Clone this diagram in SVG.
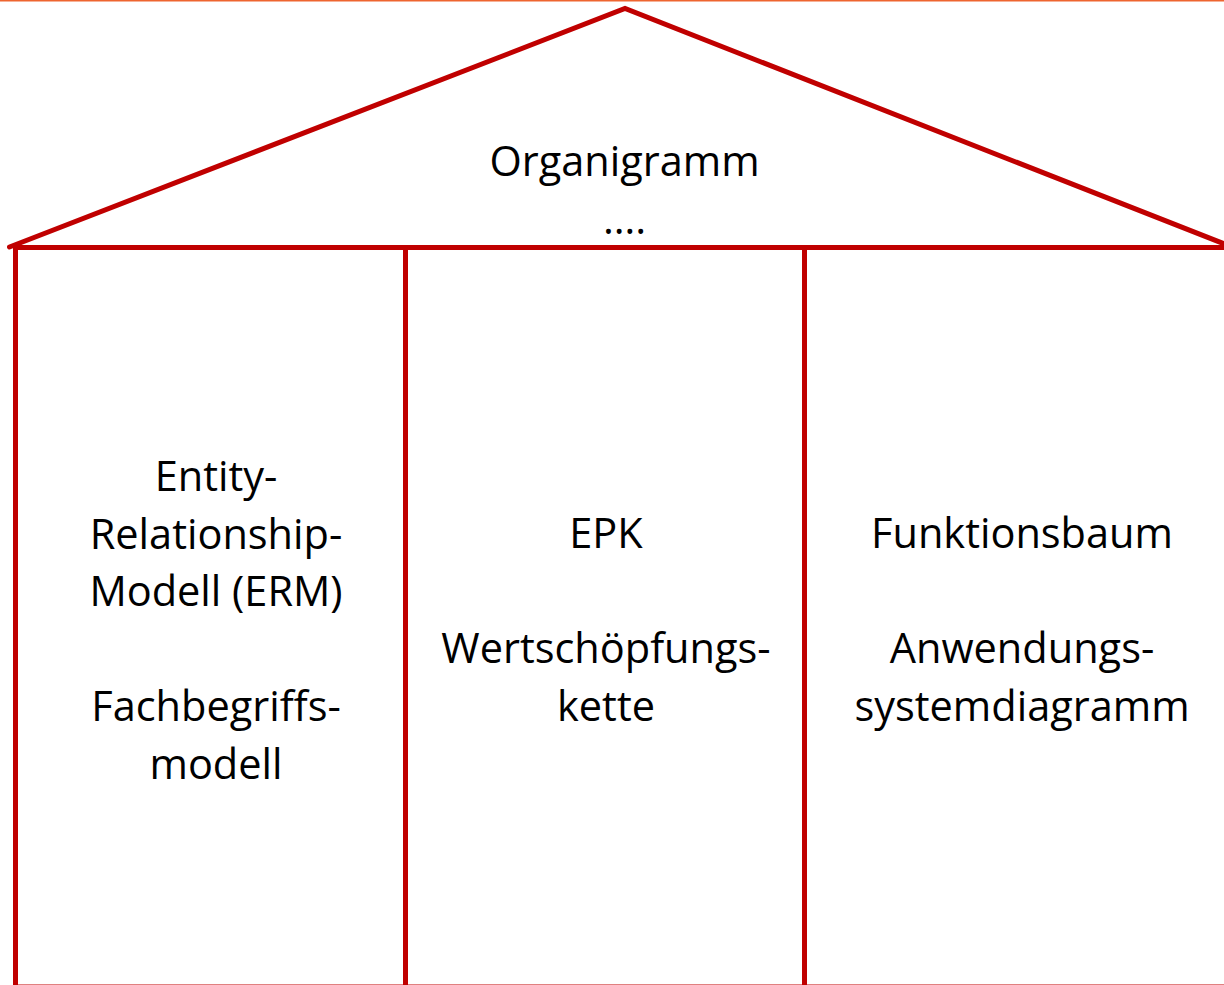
<svg xmlns="http://www.w3.org/2000/svg" width="1224" height="985" viewBox="0 0 1224 985">
<style>
.ln{fill:none;stroke:#C00000;stroke-width:5;stroke-linejoin:miter;stroke-linecap:round}
.t{font-family:"Open Sans","Liberation Sans",sans-serif;font-size:41.5px;fill:#000;text-anchor:middle}
</style>
<rect x="0" y="0" width="1224" height="985" fill="#fff"/>
<rect x="0" y="0" width="1224" height="1.5" fill="#EE6530"/>
<g id="connectors">
<polyline class="ln" points="9.5,247 625,8.5 1240,250"/>
<rect class="ln" x="15.5" y="247.5" width="1230" height="739.5"/>
<line class="ln" x1="405.5" y1="247.5" x2="405.5" y2="990"/>
<line class="ln" x1="804.5" y1="247.5" x2="804.5" y2="990"/>
</g>
<g id="roof">
<text class="t" x="624.5" y="176">Organigramm</text>
<text class="t" x="624.5" y="234">….</text>
</g>
<g id="col-left">
<text class="t" x="216" y="491">Entity-</text>
<text class="t" x="216" y="548.5">Relationship-</text>
<text class="t" x="216" y="606">Modell (ERM)</text>
<text class="t" x="216" y="721">Fachbegriffs-</text>
<text class="t" x="216" y="778.5">modell</text>
</g>
<g id="col-mid">
<text class="t" x="606" y="548">EPK</text>
<text class="t" x="606" y="663">Wertschöpfungs-</text>
<text class="t" x="606" y="721">kette</text>
</g>
<g id="col-right">
<text class="t" x="1022" y="548">Funktionsbaum</text>
<text class="t" x="1022" y="663">Anwendungs-</text>
<text class="t" x="1022" y="721">systemdiagramm</text>
</g>
</svg>
